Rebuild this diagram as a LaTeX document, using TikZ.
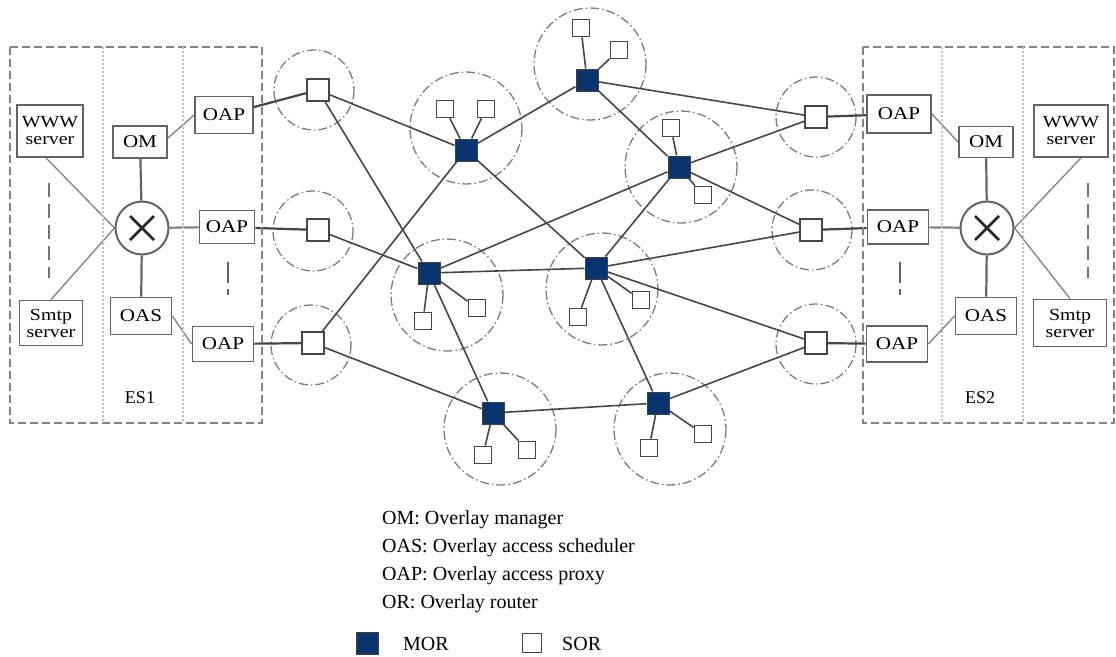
\documentclass[tikz,border=0pt]{standalone}
\usepackage{fontspec}
\setmainfont{Liberation Serif}
\newfontfamily\widefont[FakeStretch=1.17]{Liberation Serif}
\usetikzlibrary{backgrounds}
\definecolor{mornavy}{RGB}{10,52,112}
\definecolor{boxgray}{RGB}{100,100,100}
\definecolor{linkgray}{RGB}{70,70,70}
\definecolor{zonegray}{RGB}{125,125,125}
\definecolor{sepgray}{RGB}{190,190,190}
\tikzset{
  esbox/.style={draw=boxgray!80, line width=1.6pt, dash pattern=on 8pt off 4pt},
  sep/.style={draw=sepgray, line width=2pt, dash pattern=on 2pt off 2pt},
  cbox/.style={draw=boxgray, line width=1.8pt, fill=white, inner sep=0pt, font=\widefont\fontsize{18}{19}\selectfont},
  sbox/.style={cbox, align=center, font=\widefont\fontsize{17}{17}\selectfont},
  xnode/.style={circle, draw=boxgray, line width=2pt, fill=white, minimum size=53pt, inner sep=0pt},
  xline/.style={line width=2.6pt, draw=black!85},
  ilink/.style={draw=gray, line width=1.3pt},
  dlink/.style={draw=boxgray, line width=2.2pt},
  olink/.style={draw=linkgray, line width=2.2pt},
  link/.style={draw=linkgray, line width=1.6pt},
  mor/.style={draw=black!75, fill=mornavy, minimum size=22pt, inner sep=0pt, line width=1pt},
  sor/.style={draw=linkgray, fill=white, minimum size=22pt, inner sep=0pt, line width=2pt},
  ssor/.style={draw=linkgray, fill=white, minimum size=17pt, inner sep=0pt, line width=1.8pt},
  zone/.style={draw=zonegray, line width=1.3pt, dash pattern=on 9pt off 3pt on 1.5pt off 3pt},
  elip/.style={draw=boxgray!90, line width=2.8pt, dash pattern=on 14pt off 7pt},
  legtext/.style={anchor=west, inner sep=0pt, font=\fontsize{20}{21}\selectfont},
  eslabel/.style={font=\fontsize{18}{19}\selectfont},
}
\begin{document}
\begin{tikzpicture}[x=1pt,y=-1pt]
\useasboundingbox (0,0) rectangle (1116,656);

% ---------- ES1 ----------
\draw[esbox] (10,47) rectangle (262,423);
\draw[sep] (103,47) -- (103,423);
\draw[sep] (183,47) -- (183,423);
\node[sbox, minimum width=66pt, minimum height=52pt] (www1) at (50,131) {WWW\\server};
\node[sbox, minimum width=63pt, minimum height=45pt] (smtp1) at (51,323) {Smtp\\server};
\node[cbox, minimum width=54pt, minimum height=32pt] (om1) at (140,142) {OM};
\node[cbox, minimum width=58pt, minimum height=37pt] (oap1a) at (224,115) {OAP};
\node[cbox, minimum width=55pt, minimum height=33pt] (oap1b) at (227,227) {OAP};
\node[cbox, minimum width=61pt, minimum height=37pt] (oas1) at (141,316) {OAS};
\node[cbox, minimum width=61pt, minimum height=35pt] (oap1c) at (223,344) {OAP};
\node[xnode] (x1) at (142,228) {};
\draw[xline] (x1) ++(-12,-12) -- ++(24,24);
\draw[xline] (x1) ++(-12,12) -- ++(24,-24);
\node[eslabel] (es1) at (140,398) {ES1};
\draw[elip] (49,183) -- (49,278);
\draw[boxgray, line width=2.8pt] (228,262) -- (228,283);
\draw[boxgray, line width=2.8pt] (228,289) -- (228,295);

% ---------- ES2 ----------
\draw[esbox] (863,47) rectangle (1114,423);
\draw[sep] (942,47) -- (942,423);
\draw[sep] (1023,47) -- (1023,423);
\node[cbox, minimum width=64pt, minimum height=38pt] (oap2a) at (899,114) {OAP};
\node[cbox, minimum width=54pt, minimum height=31pt] (om2) at (986,142) {OM};
\node[sbox, minimum width=74pt, minimum height=52pt] (www2) at (1071,131) {WWW\\server};
\node[cbox, minimum width=61pt, minimum height=34pt] (oap2b) at (898,227) {OAP};
\node[cbox, minimum width=61pt, minimum height=37pt] (oas2) at (986,316) {OAS};
\node[sbox, minimum width=73pt, minimum height=47pt] (smtp2) at (1070,323) {Smtp\\server};
\node[cbox, minimum width=61pt, minimum height=36pt] (oap2c) at (897,344) {OAP};
\node[xnode] (x2) at (987,228) {};
\draw[xline] (x2) ++(-12,-12) -- ++(24,24);
\draw[xline] (x2) ++(-12,12) -- ++(24,-24);
\node[eslabel] (es2) at (980,398) {ES2};
\draw[elip] (1088,183) -- (1088,278);
\draw[boxgray, line width=2.8pt] (900,262) -- (900,283);
\draw[boxgray, line width=2.8pt] (900,289) -- (900,295);

% ---------- overlay routers ----------
\node[sor] (s1) at (318,90) {};
\node[sor] (s2) at (318,230) {};
\node[sor] (s3) at (313,343) {};
\node[sor] (r1) at (816,117) {};
\node[sor] (r2) at (811,230) {};
\node[sor] (r3) at (816,343) {};

\node[mor] (m1) at (466,150) {};
\node[ssor] (m1a) at (445,109) {};
\node[ssor] (m1b) at (486,109) {};
\node[mor] (m2) at (587,80) {};
\node[ssor] (m2a) at (581,28) {};
\node[ssor] (m2b) at (619,50) {};
\node[mor] (m3) at (679,167) {};
\node[ssor] (m3a) at (671,128) {};
\node[ssor] (m3b) at (703,195) {};
\node[mor] (m4) at (429,273) {};
\node[ssor] (m4a) at (423,321) {};
\node[ssor] (m4b) at (477,308) {};
\node[mor] (m5) at (596,268) {};
\node[ssor] (m5a) at (578,317) {};
\node[ssor] (m5b) at (641,300) {};
\node[mor] (m6) at (493,413) {};
\node[ssor] (m6a) at (483,455) {};
\node[ssor] (m6b) at (527,450) {};
\node[mor] (m7) at (658,403) {};
\node[ssor] (m7a) at (649,448) {};
\node[ssor] (m7b) at (703,434) {};

\begin{scope}[on background layer]
  % zones
  \draw[zone] (314,90) circle (40);
  \draw[zone] (313,231) circle (40);
  \draw[zone] (311,345) circle (40);
  \draw[zone] (816,117) circle (40);
  \draw[zone] (812,230) circle (40);
  \draw[zone] (816,344) circle (40);
  \draw[zone] (466,128) circle (56);
  \draw[zone] (590,64) circle (56);
  \draw[zone] (681,167) circle (56);
  \draw[zone] (447,295) circle (56);
  \draw[zone] (602,289) circle (56);
  \draw[zone] (500,429) circle (56);
  \draw[zone] (670,429) circle (56);
  % ES internal links
  \path (www1.south) ++(-4,0) coordinate (w1s);
  \draw[ilink] (w1s) -- (x1.west);
  \draw[ilink] (smtp1.north) -- (x1.west);
  \draw[dlink] (om1) -- (x1);
  \draw[dlink] (oas1) -- (x1);
  \draw[ilink] (om1.8) -- (oap1a.west);
  \draw[ilink] (oas1.east) -- (oap1c.west);
  \draw[ilink, line width=2.2pt] (x1) -- (oap1b);
  \path (www2.south) ++(10,0) coordinate (w2s);
  \draw[ilink] (w2s) -- (x2.east);
  \draw[ilink] (smtp2.north) -- (x2.east);
  \draw[dlink] (om2) -- (x2);
  \draw[dlink] (oas2) -- (x2);
  \draw[ilink] (oap2a.east) -- (om2.west);
  \draw[ilink] (oas2.west) -- (oap2c.east);
  \draw[ilink, line width=2.2pt] (x2) -- (oap2b);
  % access links
  \draw[olink] (oap1a) -- (s1);
  \draw[olink] (oap1b) -- (s2);
  \draw[olink] (oap1c) -- (s3);
  \draw[olink] (r1) -- (oap2a);
  \draw[olink] (r2) -- (oap2b);
  \draw[olink] (r3) -- (oap2c);
  % overlay links
  \draw[link] (s1) -- (m1);
  \draw[link] (s1) -- (m4);
  \draw[link] (s2) -- (m4);
  \draw[link] (s3) -- (m1);
  \draw[link] (s3) -- (m6);
  \draw[link] (m1) -- (m2);
  \draw[link] (m1) -- (m5);
  \draw[link] (m2) -- (r1);
  \draw[link] (m2) -- (m3);
  \draw[link] (m3) -- (r1);
  \draw[link] (m3) -- (r2);
  \draw[link] (m3) -- (m5);
  \draw[link] (m4) -- (m3);
  \draw[link] (m4) -- (m5);
  \draw[link] (m4) -- (m6);
  \draw[link] (m5) -- (r2);
  \draw[link] (m5) -- (r3);
  \draw[link] (m5) -- (m7);
  \draw[link] (m6) -- (m7);
  \draw[link] (m7) -- (r3);
  % children
  \foreach \m in {m1,m2,m3,m4,m5,m6,m7}{
    \draw[link] (\m) -- (\m a);
    \draw[link] (\m) -- (\m b);
  }
\end{scope}

% ---------- legend ----------
\node[legtext] (l1) at (382,520) {OM: Overlay manager};
\node[legtext] (l2) at (382,548) {OAS: Overlay access scheduler};
\node[legtext] (l3) at (382,576) {OAP: Overlay access proxy};
\node[legtext] (l4) at (382,604) {OR: Overlay router};
\node[mor, minimum size=22pt] (lmor) at (367,643) {};
\node[legtext] (lmort) at (403,644) {MOR};
\node[ssor, minimum size=19pt] (lsor) at (532,643) {};
\node[legtext] (lsort) at (562,644) {SOR};
\end{tikzpicture}
\end{document}
